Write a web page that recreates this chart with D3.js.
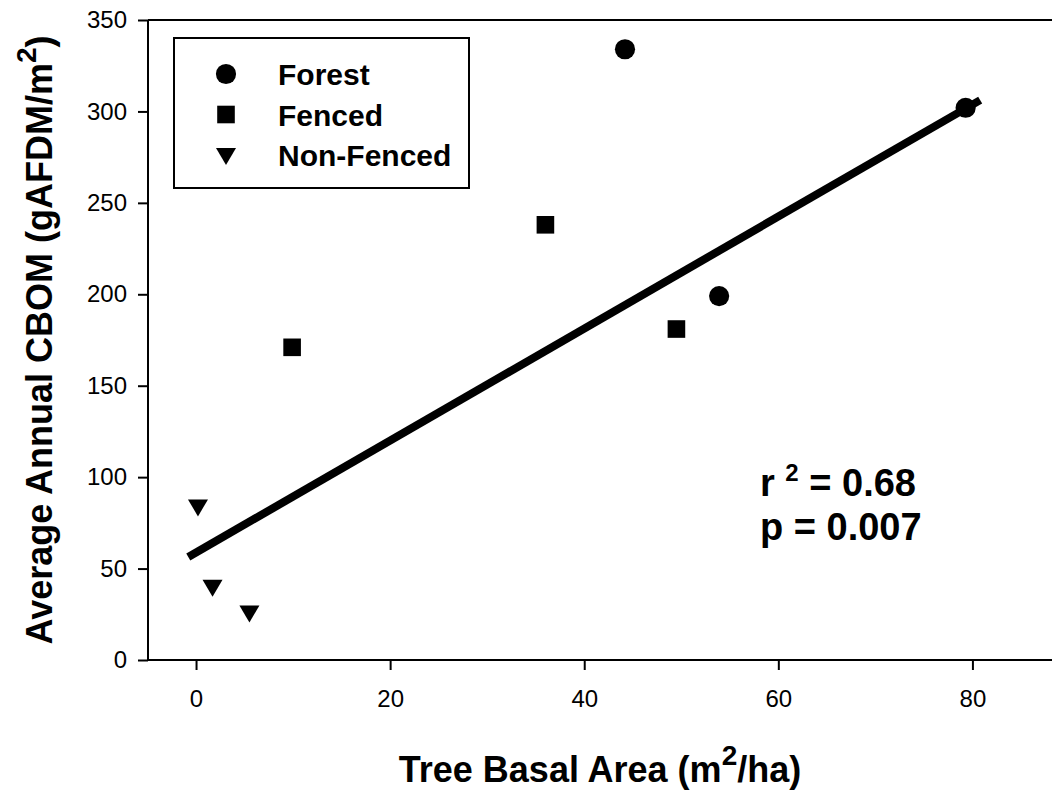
<!DOCTYPE html>
<html lang="en">
<head>
  <meta charset="UTF-8">
  <title>CBOM vs Tree Basal Area</title>
  <script src="https://d3js.org/d3.v7.min.js"></script>
  <style>
    body { margin: 0; background: #fff; font-family: 'Liberation Sans', Arial, sans-serif; }
    svg text { fill: #000; }
  </style>
</head>
<body>
  <div id="chart"></div>
  <script>
    // site data: basal area (m2/ha) vs average annual CBOM (gAFDM/m2)
    const forest = [[44.2, 334], [53.9, 199], [79.3, 302]];
    const fenced = [[9.9, 171], [36.0, 238], [49.5, 181]];
    const nonFenced = [[0.2, 84], [1.7, 40], [5.5, 26]];
    const fitLine = [[-0.8, 56.3], [80.8, 306.2]];
    const xTicks = [0, 20, 40, 60, 80];
    const yTicks = [0, 50, 100, 150, 200, 250, 300, 350];
    const legendLabels = ["Forest", "Fenced", "Non-Fenced"];

    const W = 1052, H = 792;
    const margin = { top: 20, right: 0, bottom: 132, left: 148 };

    const svg = d3.select("#chart").append("svg")
      .attr("width", W).attr("height", H);

    const x = d3.scaleLinear().domain([-4.95, 88.2]).range([margin.left, W - margin.right]);
    const y = d3.scaleLinear().domain([0, 350]).range([H - margin.bottom, margin.top]);

    // axes
    const xAxis = svg.append("g")
      .attr("transform", `translate(0,${y(0)})`)
      .call(d3.axisBottom(x).tickValues(xTicks).tickSize(10).tickPadding(20));
    const yAxis = svg.append("g")
      .attr("transform", `translate(${x(-4.95)},0)`)
      .call(d3.axisLeft(y).tickValues(yTicks).tickSize(10).tickPadding(11));

    [xAxis, yAxis].forEach(g => {
      g.select(".domain").attr("stroke", "#000").attr("stroke-width", 2);
      g.selectAll(".tick line").attr("stroke", "#000").attr("stroke-width", 2);
      g.selectAll(".tick text")
        .style("font-family", "'Liberation Sans', Arial, sans-serif")
        .style("font-size", "24px").attr("fill", "#000");
    });
    xAxis.select(".domain").attr("d", `M${x(-4.95)},0H${W}`);
    yAxis.select(".domain").attr("d", `M0,${y(0)}V${y(350)}`);

    // top frame line
    svg.append("line")
      .attr("x1", x(-4.95)).attr("x2", W)
      .attr("y1", y(350)).attr("y2", y(350))
      .attr("stroke", "#000").attr("stroke-width", 2);

    // regression line
    svg.append("path")
      .datum(fitLine)
      .attr("d", d3.line().x(d => x(d[0])).y(d => y(d[1])))
      .attr("fill", "none").attr("stroke", "#000").attr("stroke-width", 8);

    const symCircle = d3.symbol().type(d3.symbolCircle).size(320);
    const symSquare = d3.symbol().type(d3.symbolSquare).size(310);
    const triPath = "M-10,-7L10,-7L0,10Z";

    svg.selectAll(".forest").data(forest).enter().append("path")
      .attr("class", "forest")
      .attr("d", symCircle)
      .attr("transform", d => `translate(${x(d[0])},${y(d[1])})`);
    svg.selectAll(".fenced").data(fenced).enter().append("path")
      .attr("class", "fenced")
      .attr("d", symSquare)
      .attr("transform", d => `translate(${x(d[0])},${y(d[1])})`);
    svg.selectAll(".nonfenced").data(nonFenced).enter().append("path")
      .attr("class", "nonfenced")
      .attr("d", triPath)
      .attr("transform", d => `translate(${x(d[0])},${y(d[1])})`);

    // legend
    const legend = svg.append("g").attr("transform", "translate(174,38)");
    legend.append("rect")
      .attr("width", 295).attr("height", 150)
      .attr("fill", "#fff").attr("stroke", "#000").attr("stroke-width", 2);
    const legendShapes = [symCircle(), symSquare(), triPath];
    legendLabels.forEach((label, i) => {
      const cy = 36 + i * 40.5;
      legend.append("path").attr("d", legendShapes[i])
        .attr("transform", `translate(52,${cy})`);
      legend.append("text")
        .attr("x", 104).attr("y", cy + 11)
        .style("font-size", "30px").style("font-weight", "bold")
        .text(label);
    });

    // stats annotation
    const stats = svg.append("text")
      .attr("x", 760).attr("y", 496)
      .style("font-size", "38px").style("font-weight", "bold");
    stats.append("tspan").text("r ");
    stats.append("tspan").attr("dy", -15).style("font-size", "24px").text("2");
    stats.append("tspan").attr("dy", 15).text(" = 0.68");
    svg.append("text")
      .attr("x", 760).attr("y", 540)
      .style("font-size", "38px").style("font-weight", "bold")
      .text("p = 0.007");

    // axis titles
    const xt = svg.append("text")
      .attr("x", 600).attr("y", 782)
      .attr("text-anchor", "middle")
      .style("font-size", "36px").style("font-weight", "bold");
    xt.append("tspan").text("Tree Basal Area (m");
    xt.append("tspan").attr("dy", -17).style("font-size", "28px").text("2");
    xt.append("tspan").attr("dy", 17).text("/ha)");

    const yt = svg.append("text")
      .attr("transform", `translate(52,${y(175)}) rotate(-90)`)
      .attr("text-anchor", "middle")
      .style("font-size", "36px").style("font-weight", "bold");
    yt.append("tspan").text("Average Annual CBOM (gAFDM/m");
    yt.append("tspan").attr("dy", -16).style("font-size", "28px").text("2");
    yt.append("tspan").attr("dy", 16).text(")");
  </script>
</body>
</html>
